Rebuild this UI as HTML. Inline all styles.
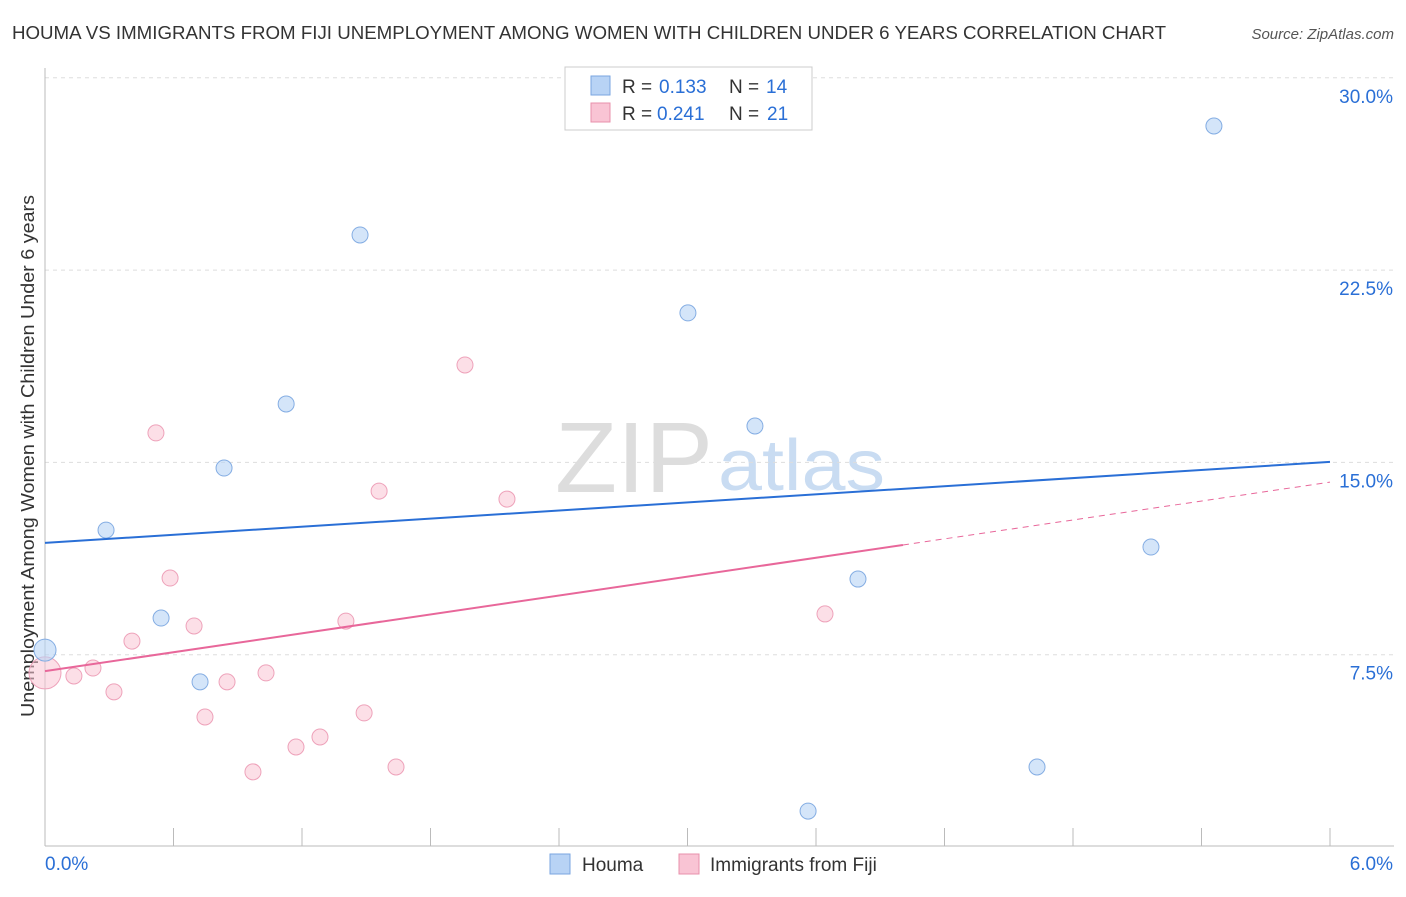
<!DOCTYPE html>
<html><head><meta charset="utf-8"><style>
body{margin:0;background:#fff;font-family:"Liberation Sans",sans-serif;}
svg text{font-family:"Liberation Sans",sans-serif;}
</style></head><body>
<svg id="chart" width="1406" height="892">
<text x="12" y="39" font-size="18" fill="#333" textLength="1154" lengthAdjust="spacingAndGlyphs">HOUMA VS IMMIGRANTS FROM FIJI UNEMPLOYMENT AMONG WOMEN WITH CHILDREN UNDER 6 YEARS CORRELATION CHART</text>
<text x="1394" y="39" font-size="15" font-style="italic" fill="#555" text-anchor="end">Source: ZipAtlas.com</text>
<text x="555" y="492" font-size="100" fill="#ddd" textLength="158" lengthAdjust="spacingAndGlyphs" font-family="Liberation Serif">ZIP</text>
<text x="718" y="490" font-size="72" fill="#c9dcf2" textLength="167" lengthAdjust="spacingAndGlyphs">atlas</text>
<text transform="translate(34,456) rotate(-90)" font-size="18" fill="#333" text-anchor="middle" textLength="522" lengthAdjust="spacingAndGlyphs">Unemployment Among Women with Children Under 6 years</text>
<g id="grid"></g><g id="marks"></g>
<g>
<rect x="565" y="67" width="247" height="63" fill="#fff" stroke="#ccc"/>
<rect x="591" y="76" width="19" height="19" fill="#b8d3f5" stroke="#7aa6e0"/>
<rect x="591" y="103" width="19" height="19" fill="#f9c4d4" stroke="#e890ab"/>
<text x="622" y="93" font-size="19" fill="#333">R = </text><text x="659" y="93" font-size="19" fill="#2a6fd6">0.133</text>
<text x="729" y="93" font-size="19" fill="#333">N = </text><text x="766" y="93" font-size="19" fill="#2a6fd6">14</text>
<text x="622" y="120" font-size="19" fill="#333">R = </text><text x="657" y="120" font-size="19" fill="#2a6fd6">0.241</text>
<text x="729" y="120" font-size="19" fill="#333">N = </text><text x="767" y="120" font-size="19" fill="#2a6fd6">21</text>
</g>
<g>
<rect x="550" y="854" width="20" height="20" fill="#b8d3f5" stroke="#7aa6e0"/>
<text x="582" y="871" font-size="19" fill="#333">Houma</text>
<rect x="679" y="854" width="20" height="20" fill="#f9c4d4" stroke="#e890ab"/>
<text x="710" y="871" font-size="19" fill="#333">Immigrants from Fiji</text>
</g>
</svg>
<script>
const yTicks=[7.5,15,22.5,30];
const yTickLabels=["7.5%","15.0%","22.5%","30.0%"];
const houmaX=[0,0.285,0.542,0.724,0.836,1.126,1.471,3.002,3.315,3.563,3.796,4.632,5.164,5.458];
const houmaY=[7.68,12.36,8.93,6.44,14.78,17.28,23.87,20.83,16.42,1.40,10.45,3.12,11.70,28.12];
const fijiX=[0,0.135,0.224,0.322,0.406,0.518,0.584,0.696,0.747,0.850,0.971,1.032,1.172,1.284,1.405,1.490,1.560,1.639,1.961,2.157,3.642];
const fijiY=[6.79,6.67,6.98,6.05,8.03,16.15,10.49,8.62,5.07,6.44,2.93,6.79,3.90,4.29,8.81,5.23,13.88,3.12,18.80,13.57,9.09];
const houmaTrend=[11.86,15.02];
const fijiTrend=[6.86,11.78,14.23];
const fijiSolidEnd=4.006;
const NS="http://www.w3.org/2000/svg";
const X=v=>45+v/6*1285, Y=v=>847-v*25.64;
function mk(t,a,p){const e=document.createElementNS(NS,t);for(const k in a)e.setAttribute(k,a[k]);p.appendChild(e);return e;}
const grid=document.getElementById('grid'),marks=document.getElementById('marks');
yTicks.forEach((t,i)=>{
 const l=mk('line',{x1:45,x2:1394,y1:Y(t),y2:Y(t),stroke:'#ddd','stroke-dasharray':'4,4'},grid);
 
 
 const tx=mk('text',{x:1393,y:Y(t)+25,'font-size':19,fill:'#2a6fd6','text-anchor':'end'},grid);
 tx.textContent=yTickLabels[i];
 
 
});
mk('line',{x1:45,x2:45,y1:68,y2:846,stroke:'#bbb'},grid);
mk('line',{x1:45,x2:1394,y1:846,y2:846,stroke:'#bbb'},grid);
for(let i=0;i<=10;i++){const tk=mk('line',{x1:X(i*0.6),x2:X(i*0.6),y1:828,y2:846,stroke:'#bbb'},grid);
 
 }
const xl0=mk('text',{x:45,y:870,'font-size':19,fill:'#2a6fd6'},grid);xl0.textContent='0.0%';


const xl1=mk('text',{x:1393,y:870,'font-size':19,fill:'#2a6fd6','text-anchor':'end'},grid);xl1.textContent='6.0%';


fijiX.forEach((x,i)=>{const c=mk('circle',{cx:X(x),cy:Y(fijiY[i]),r:i==0?16:8,fill:'rgba(249,196,212,0.55)',stroke:'#eea2ba','stroke-width':1},marks);
 
 });
houmaX.forEach((x,i)=>{const c=mk('circle',{cx:X(x),cy:Y(houmaY[i]),r:i==0?11:8,fill:'rgba(184,211,245,0.6)',stroke:'#84ade3','stroke-width':1},marks);
 
 });
const hb=mk('line',{x1:X(0),y1:Y(houmaTrend[0]),x2:X(6),y2:Y(houmaTrend[1]),stroke:'#2a6fd6','stroke-width':2},marks);


const fp=mk('line',{x1:X(0),y1:Y(fijiTrend[0]),x2:X(fijiSolidEnd),y2:Y(fijiTrend[1]),stroke:'#e8679a','stroke-width':2},marks);


const fd=mk('line',{x1:X(fijiSolidEnd),y1:Y(fijiTrend[1]),x2:X(6),y2:Y(fijiTrend[2]),stroke:'#e8679a','stroke-width':1,'stroke-dasharray':'6,5'},marks);


</script>
</body></html>
